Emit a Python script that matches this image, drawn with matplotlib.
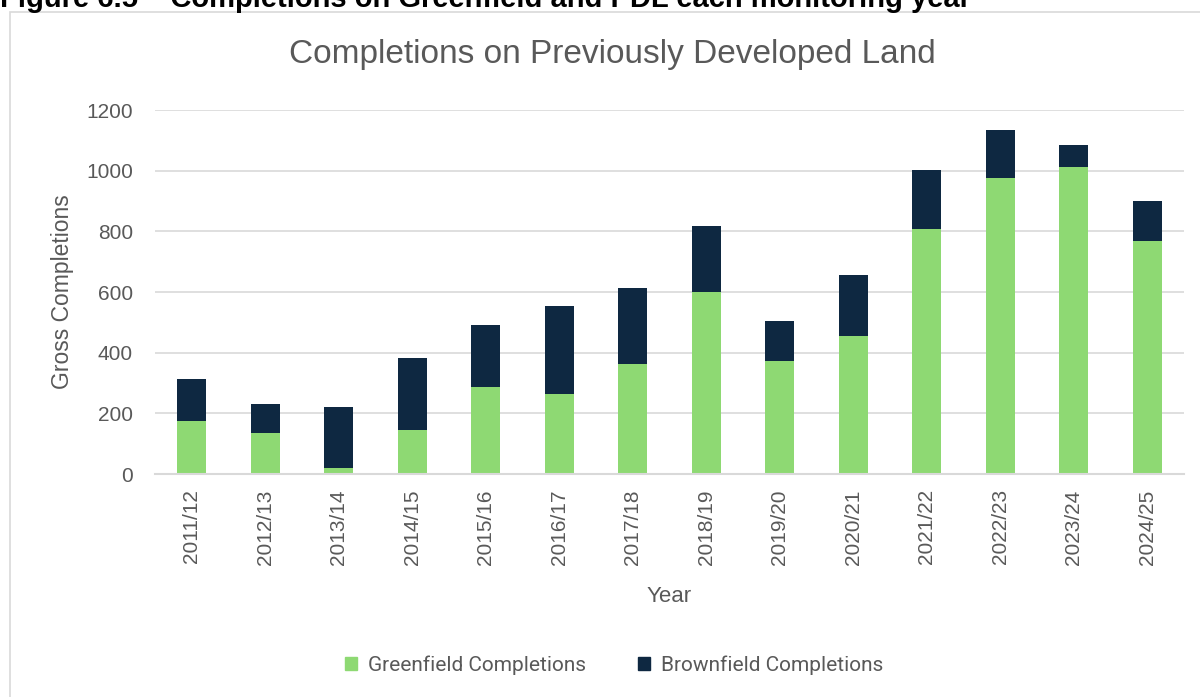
#!/usr/bin/env python3
"""Completions on previously developed land - stacked bars by monitoring year."""

import matplotlib
matplotlib.use('Agg')
import matplotlib.pyplot as plt
from matplotlib.patches import Patch, Rectangle

years = ['2011/12', '2012/13', '2013/14', '2014/15', '2015/16', '2016/17', '2017/18',
         '2018/19', '2019/20', '2020/21', '2021/22', '2022/23', '2023/24', '2024/25']
greenfield = [175, 134, 20, 146, 286, 264, 364, 600, 371, 454, 808, 976, 1012, 768]
brownfield = [137, 96, 200, 237, 204, 289, 250, 216, 132, 201, 193, 158, 73, 132]

GREEN = '#8ED973'
NAVY = '#0E2841'
TEXT = '#595959'
GRID = '#D9D9D9'

W, H = 1200, 697
fig = plt.figure(figsize=(W / 100, H / 100), dpi=100)

# outer chart border (cut off at right and bottom)
fig.patches.append(Rectangle((10 / W, -0.1), 1.2, 1 - 12 / H + 0.1,
                             transform=fig.transFigure, fill=False,
                             edgecolor=GRID, linewidth=1.2))

# document caption, partly cropped at the top like the source page
fig.text(0, 1 - 7 / H, 'Figure 6.5 \u2013 Completions on Greenfield and PDL each monitoring year',
         fontsize=21, fontweight='bold', family='Liberation Sans', color='black',
         ha='left', va='baseline')

ax = fig.add_axes([155 / W, 223 / H, 1029 / W, 364 / H])
x = range(len(years))
ax.bar(x, greenfield, width=0.4, color=GREEN, label='Greenfield Completions', zorder=3)
ax.bar(x, brownfield, width=0.4, bottom=greenfield, color=NAVY,
       label='Brownfield Completions', zorder=3)

ax.set_xlim(-0.5, len(years) - 0.5)
ax.set_ylim(0, 1200)
ax.set_yticks(range(0, 1201, 200))
ax.set_xticks(list(x))
ax.set_xticklabels(years, rotation=90)
ax.grid(axis='y', color=GRID, linewidth=1.2, zorder=0)
for s in ['top', 'right', 'left']:
    ax.spines[s].set_visible(False)
ax.spines['bottom'].set_color(GRID)
ax.spines['bottom'].set_linewidth(1.5)
ax.spines['bottom'].set_zorder(4)
ax.tick_params(axis='both', length=0, labelsize=15, labelcolor=TEXT)
ax.tick_params(axis='y', pad=16)
ax.tick_params(axis='x', pad=11)
for lbl in ax.get_xticklabels() + ax.get_yticklabels():
    lbl.set_family('Liberation Sans')

fig.text(612 / W, 1 - 55 / H, 'Completions on Previously Developed Land',
         fontsize=24, color=TEXT, family='Liberation Sans', ha='center', va='center')
fig.text(62 / W, 1 - 292 / H, 'Gross Completions', rotation=90, fontsize=16.5,
         color=TEXT, family='Liberation Sans', ha='center', va='center')
fig.text(669 / W, 1 - 596 / H, 'Year', fontsize=16, color=TEXT,
         family='Liberation Sans', ha='center', va='center')

handles = [Patch(color=GREEN), Patch(color=NAVY)]
leg = fig.legend(handles, ['Greenfield Completions', 'Brownfield Completions'],
                 loc='center', bbox_to_anchor=(614 / W, 1 - 665 / H), ncol=2,
                 frameon=False, handlelength=0.6, handleheight=0.6, handletextpad=0.5,
                 columnspacing=2.5, prop={'family': 'Roboto', 'size': 15})
for t in leg.get_texts():
    t.set_color(TEXT)

fig.savefig('out.png', dpi=100)
